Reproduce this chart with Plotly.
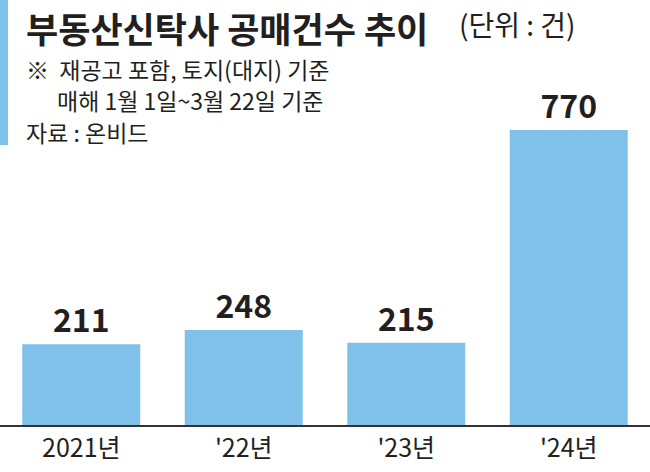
import plotly.graph_objects as go

# 데이터
years = ["2021년", "'22년", "'23년", "'24년"]
counts = [211, 248, 215, 770]

W, H = 650, 472
TOP, BOTTOM = 130, 47
PLOT_H = H - TOP - BOTTOM

def py(y_px):
    # 픽셀 y -> paper 좌표
    return (H - BOTTOM - y_px) / PLOT_H

FONT = "Noto Sans CJK KR"
BAR_COLOR = "#80C1EA"

fig = go.Figure()
fig.add_trace(go.Bar(
    x=years, y=counts,
    marker=dict(color=BAR_COLOR, line=dict(width=0)),
    text=[str(v) for v in counts],
    textposition="outside",
    textfont=dict(family=FONT, size=32, color="#231f20", weight="bold"),
    cliponaxis=False,
    width=0.726,
    hoverinfo="skip",
))

fig.update_layout(
    width=W, height=H,
    margin=dict(l=0, r=0, t=TOP, b=BOTTOM, autoexpand=False),
    paper_bgcolor="white", plot_bgcolor="white",
    showlegend=False,
    font=dict(family=FONT, color="#231f20"),
)
fig.update_xaxes(
    range=[-0.5, 3.5],
    showgrid=False, zeroline=False,
    showline=True, linecolor="#333333", linewidth=2,
    ticks="", tickfont=dict(family=FONT, size=25, color="#231f20"),
    fixedrange=True,
)
fig.update_yaxes(
    range=[0, 770], visible=False, showgrid=False, zeroline=False, fixedrange=True,
)

# 왼쪽 파란 세로 막대
fig.add_shape(type="rect", xref="paper", yref="paper",
              x0=0, x1=8 / W, y0=py(145), y1=py(0),
              fillcolor=BAR_COLOR, line=dict(width=0), layer="above")

# 제목은 위쪽 끝에 붙여서 배치
fig.add_annotation(
    text="<b>부동산신탁사 공매건수 추이</b>", xref="paper", yref="paper",
    x=24 / W, y=py(0), xanchor="left", yanchor="top",
    showarrow=False, font=dict(family=FONT, size=35, color="#231f20"),
)

anns = [
    dict(text="(단위 : 건)", x=457, y=24, size=28),
    dict(text="※  재공고 포함, 토지(대지) 기준", x=24, y=69, size=23),
    dict(text="매해 1월 1일~3월 22일 기준", x=55, y=100, size=23),
    dict(text="자료 : 온비드", x=24, y=132, size=23),
]
for a in anns:
    fig.add_annotation(
        text=a["text"], xref="paper", yref="paper",
        x=a["x"] / W, y=py(a["y"]), xanchor="left", yanchor="middle",
        showarrow=False, font=dict(family=FONT, size=a["size"], color="#231f20"),
    )

fig.write_html("out.html", config={"displayModeBar": False},
               post_script="document.body.style.margin='0';")
